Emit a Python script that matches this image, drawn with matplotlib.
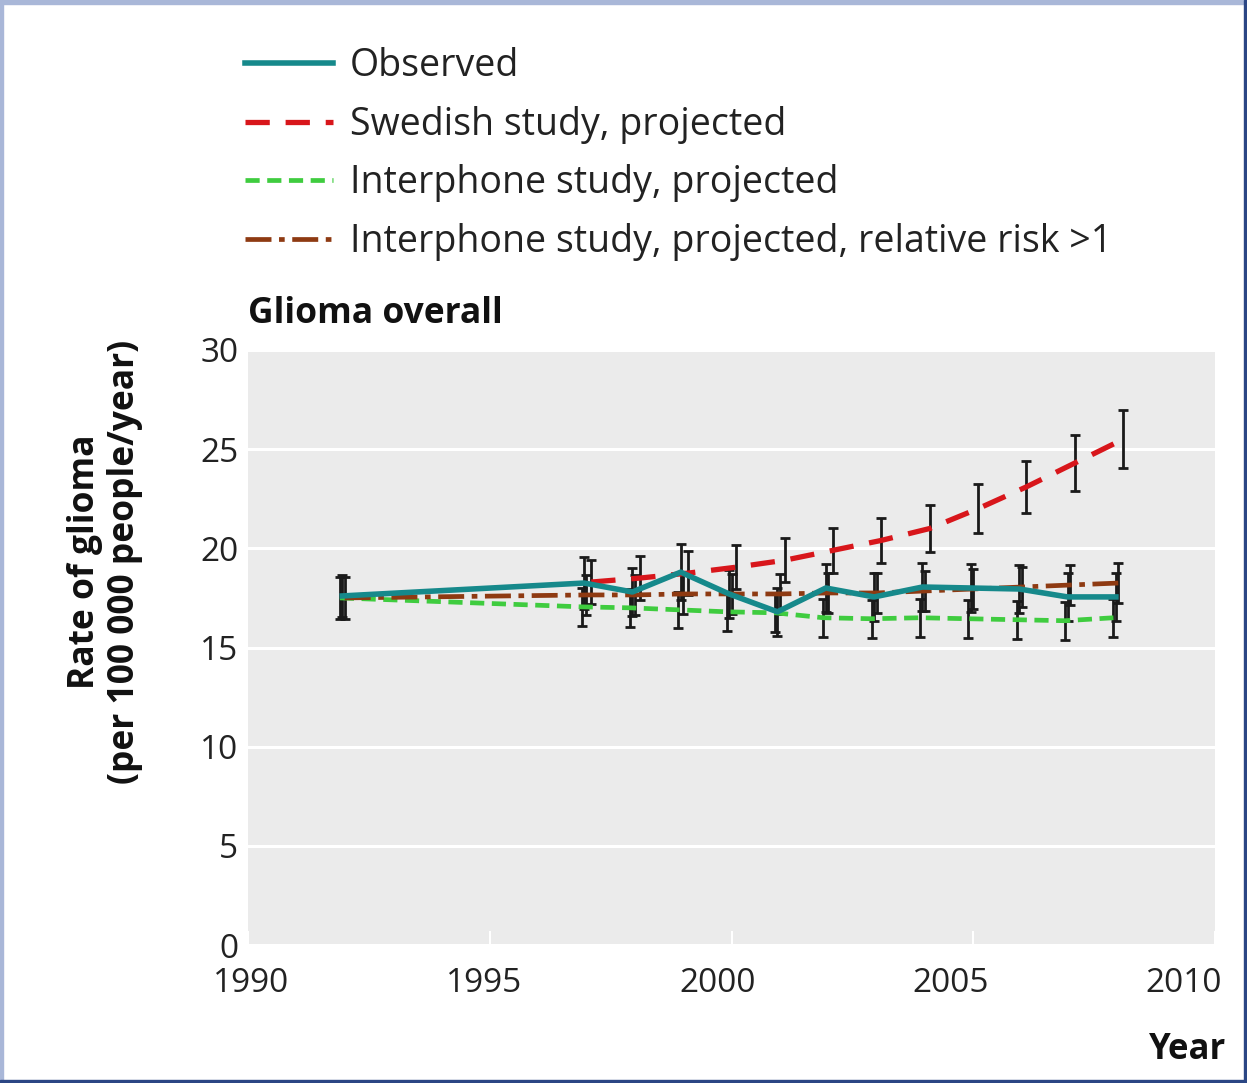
import numpy as np
import matplotlib
matplotlib.use("Agg")
import matplotlib.pyplot as plt
from matplotlib.patches import Rectangle
from matplotlib.transforms import blended_transform_factory

plt.rcParams['font.family'] = ['Open Sans', 'DejaVu Sans']

# glioma incidence, observed and projected (per 100 000 people/year)
obs_years = [1992, 1997, 1998, 1999, 2000, 2001, 2002, 2003, 2004, 2005, 2006, 2007, 2008]
observed = [17.6, 18.25, 17.8, 18.8, 17.7, 16.8, 18.0, 17.55, 18.05, 18.0, 17.95, 17.55, 17.55]
observed_err = [1.05, 1.3, 1.2, 1.4, 1.2, 1.2, 1.2, 1.2, 1.2, 1.2, 1.2, 1.2, 1.2]

interphone = [17.5, 17.05, 17.0, 16.9, 16.8, 16.75, 16.5, 16.45, 16.5, 16.45, 16.4, 16.35, 16.5]
interphone_err = [1.05, 0.95, 0.95, 0.9, 0.95, 0.95, 0.95, 0.95, 0.95, 0.95, 0.95, 0.95, 0.95]

interphone_rr = [17.5, 17.65, 17.65, 17.7, 17.7, 17.7, 17.75, 17.75, 17.85, 17.95, 18.05, 18.15, 18.25]
interphone_rr_err = [1.05, 1.0, 1.0, 1.0, 1.0, 1.0, 1.0, 1.0, 1.0, 1.0, 1.0, 1.0, 1.0]

swe_years = [1997, 1998, 1999, 2000, 2001, 2002, 2003, 2004, 2005, 2006, 2007, 2008]
swedish = [18.3, 18.5, 18.75, 19.05, 19.4, 19.9, 20.4, 21.0, 22.0, 23.1, 24.3, 25.5]
swedish_err = [1.1, 1.1, 1.1, 1.1, 1.1, 1.15, 1.15, 1.2, 1.25, 1.3, 1.4, 1.45]

x_ticks = [1990, 1995, 2000, 2005, 2010]
y_ticks = [0, 5, 10, 15, 20, 25, 30]

labels = ["Observed", "Swedish study, projected", "Interphone study, projected",
          "Interphone study, projected, relative risk >1"]

teal = "#16898b"
red = "#d8161b"
green = "#3fcc3f"
brown = "#8e3a12"

fig = plt.figure(figsize=(12.47, 10.83), dpi=100)
ax = fig.add_axes([248 / 1247, 1 - 945 / 1083, 967 / 1247, 595 / 1083])
ax.set_facecolor("#ebebeb")
for s in ax.spines.values():
    s.set_visible(False)

ax.set_xlim(1990, 2010)
ax.set_ylim(0, 30)
ax.set_xticks(x_ticks)
ax.set_xticklabels([])
ax.set_yticks(y_ticks)
ax.yaxis.grid(True, color="white", lw=2.2)
ax.set_axisbelow(True)
ax.tick_params(axis="y", length=0, pad=7, labelsize=24, labelcolor="#222222")
ax.tick_params(axis="x", direction="in", length=10, width=1.5, color="white")

# year labels sit a little left of their tick marks, drifting towards the right end
trans = blended_transform_factory(ax.transData, ax.transAxes)
for t in x_ticks:
    ax.text(1990.06 + (t - 1990) * 0.965, -0.064, str(t), transform=trans,
            ha="center", va="center", fontsize=24, color="#222222")

bar_kw = dict(fmt="none", ecolor="#1a1a1a", elinewidth=2.0, capsize=3.5, capthick=2.0, zorder=2)

def shifted(years, dx):
    return np.array(years, dtype=float) + dx

ax.errorbar(shifted(obs_years, -0.1), interphone, yerr=interphone_err, **bar_kw)
ax.errorbar(shifted(obs_years, -0.05), observed, yerr=observed_err, **bar_kw)
ax.errorbar(shifted(obs_years, 0.0), interphone_rr, yerr=interphone_rr_err, **bar_kw)
ax.errorbar(shifted(swe_years, 0.1), swedish, yerr=swedish_err, **bar_kw)

l_green, = ax.plot(shifted(obs_years, -0.1), interphone, color=green, lw=3.4,
                   dashes=(3.0, 1.6), zorder=3)
l_brown, = ax.plot(shifted(obs_years, 0.0), interphone_rr, color=brown, lw=3.4,
                   dashes=(5.5, 1.6, 1.2, 1.6), zorder=3)
l_red, = ax.plot(shifted(swe_years, 0.1), swedish, color=red, lw=3.8,
                 dashes=(4.6, 3.0), zorder=3)
l_obs, = ax.plot(shifted(obs_years, -0.05), observed, color=teal, lw=4.0, zorder=4)

fig.legend([l_obs, l_red, l_green, l_brown], labels, loc="upper left",
           bbox_to_anchor=(245 / 1247, 1 - 47 / 1083), frameon=False,
           fontsize=27, handlelength=2.35, handletextpad=0.45, labelspacing=0.55,
           borderpad=0, borderaxespad=0, labelcolor="#222222")

fig.text(248 / 1247, 1 - 314 / 1083, "Glioma overall", fontsize=25.5, fontweight="bold",
         ha="left", va="center", color="#111111")
fig.text(105 / 1247, 1 - 562 / 1083, "Rate of glioma\n(per 100 000 people/year)",
         fontsize=25.5, fontweight="bold", rotation=90, ha="center", va="center",
         linespacing=1.15, color="#111111")
fig.text(1226 / 1247, 1 - 1050 / 1083, "Year", fontsize=25, fontweight="bold",
         ha="right", va="center", color="#111111")

# frame around the figure
W, H = 1247, 1083
fig.add_artist(Rectangle((0, 1 - 4 / H), 1, 4 / H, transform=fig.transFigure,
                         color="#a9b7d8", zorder=10))
fig.add_artist(Rectangle((0, 0), 3 / W, 1, transform=fig.transFigure,
                         color="#a9b7d8", zorder=10))
fig.add_artist(Rectangle((1 - 3 / W, 0), 3 / W, 1, transform=fig.transFigure,
                         color="#2b4684", zorder=10))
fig.add_artist(Rectangle((0, 0), 1, 3 / H, transform=fig.transFigure,
                         color="#2b4684", zorder=10))

fig.savefig("out.png", dpi=100)
